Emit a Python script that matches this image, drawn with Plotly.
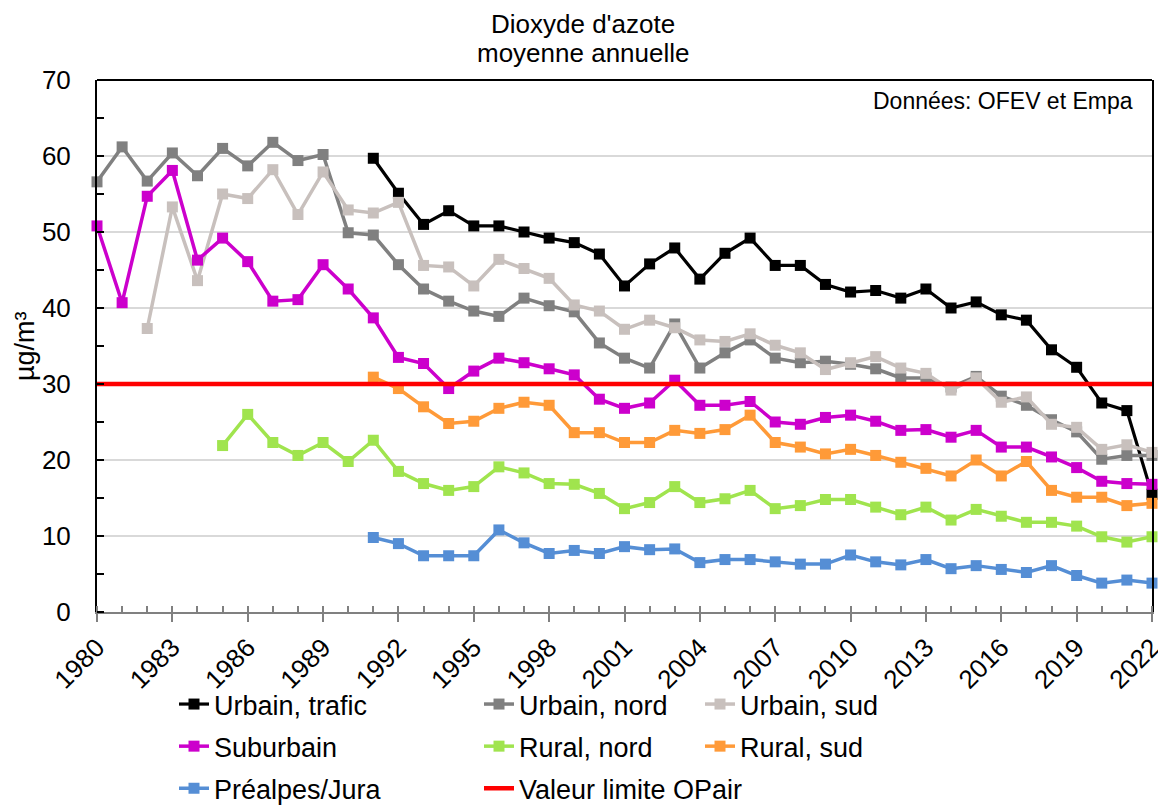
import plotly.graph_objects as go

years = list(range(1980, 2023))

urbain_trafic = [None]*11 + [59.7, 55.1, 51.0, 52.8, 50.8, 50.8, 50.0, 49.2, 48.6, 47.1,
                             42.9, 45.8, 47.9, 43.8, 47.2, 49.2, 45.6, 45.6, 43.1, 42.1,
                             42.3, 41.3, 42.5, 40.0, 40.8, 39.1, 38.4, 34.5, 32.2, 27.5,
                             26.5, 15.5]
urbain_nord = [56.6, 61.2, 56.7, 60.4, 57.4, 61.0, 58.7, 61.8, 59.4, 60.2,
               49.9, 49.6, 45.7, 42.5, 40.9, 39.6, 38.9, 41.3, 40.3, 39.5,
               35.4, 33.4, 32.1, 37.9, 32.1, 34.1, 35.8, 33.4, 32.8, 33.0,
               32.6, 32.0, 30.8, 30.8, 29.6, 31.0, 28.4, 27.2, 25.3, 23.7,
               20.1, 20.6, 20.6]
urbain_sud = [None, None, 37.3, 53.3, 43.6, 55.0, 54.4, 58.2, 52.3, 57.9,
              52.9, 52.5, 53.9, 45.6, 45.4, 42.9, 46.4, 45.2, 43.9, 40.4,
              39.6, 37.2, 38.4, 37.4, 35.8, 35.6, 36.6, 35.1, 34.1, 31.9,
              32.8, 33.6, 32.1, 31.4, 29.2, 30.8, 27.6, 28.3, 24.7, 24.3,
              21.4, 22.0, 21.0]
suburbain = [50.8, 40.7, 54.7, 58.1, 46.3, 49.2, 46.1, 40.9, 41.1, 45.7,
             42.5, 38.7, 33.5, 32.7, 29.4, 31.7, 33.4, 32.8, 32.0, 31.2,
             28.0, 26.8, 27.5, 30.5, 27.2, 27.2, 27.7, 25.0, 24.7, 25.6,
             25.9, 25.1, 23.9, 24.0, 23.0, 23.9, 21.7, 21.7, 20.4, 19.0,
             17.2, 16.9, 16.8]
rural_nord = [None]*5 + [21.9, 26.0, 22.3, 20.6, 22.3,
                         19.8, 22.6, 18.5, 16.9, 16.0, 16.5, 19.1, 18.3, 16.9, 16.8,
                         15.6, 13.6, 14.4, 16.5, 14.4, 14.9, 16.0, 13.6, 14.0, 14.8,
                         14.8, 13.8, 12.8, 13.8, 12.1, 13.5, 12.6, 11.8, 11.8, 11.3,
                         9.9, 9.2, 9.9]
rural_sud = [None]*11 + [30.9, 29.4, 27.0, 24.8, 25.1, 26.8, 27.6, 27.2, 23.6,
                         23.6, 22.3, 22.3, 23.9, 23.5, 24.0, 25.9, 22.3, 21.7, 20.8,
                         21.4, 20.6, 19.7, 18.9, 17.9, 20.0, 17.9, 19.8, 16.0, 15.1,
                         15.1, 14.0, 14.3]
prealpes_jura = [None]*11 + [9.8, 9.0, 7.4, 7.4, 7.4, 10.8, 9.1, 7.7, 8.1,
                             7.7, 8.6, 8.2, 8.3, 6.5, 6.9, 6.9, 6.6, 6.3, 6.3,
                             7.5, 6.6, 6.2, 6.9, 5.7, 6.1, 5.6, 5.2, 6.1, 4.8,
                             3.8, 4.2, 3.8]
limit_years = [1980, 2022]
limit_values = [30, 30]
x_tick_labels = [str(y) for y in range(1980, 2023, 3)]
y_tick_values = [0, 10, 20, 30, 40, 50, 60, 70]
title_lines = ["Dioxyde d'azote", "moyenne annuelle"]

FONT = "Liberation Sans, Arial, sans-serif"

# page body has an 8px margin: the figure is sized and placed to compensate
W, H, OFF = 1158, 801, 8
PL, PR, PT, PB = 97, 1152, 80, 612   # plot area in page pixels


def cx(px):
    return (px - OFF) / W


def cy(py):
    return 1 - (py - OFF) / H


def px_x(px):
    return (px - PL) / (PR - PL)


def px_y(py):
    return (PB - py) / (PB - PT)


series = [
    ("Urbain, trafic", urbain_trafic, "#000000", "legend", 3.2),
    ("Urbain, nord", urbain_nord, "#808080", "legend2", 3.5),
    ("Urbain, sud", urbain_sud, "#C8C0BD", "legend3", 3.5),
    ("Suburbain", suburbain, "#CC00CC", "legend", 3.5),
    ("Rural, nord", rural_nord, "#A0E44E", "legend2", 3.5),
    ("Rural, sud", rural_sud, "#FF9A38", "legend3", 3.5),
    ("Préalpes/Jura", prealpes_jura, "#558ED5", "legend", 3.5),
]

fig = go.Figure()
for name, vals, color, leg, lw in series:
    fig.add_trace(go.Scatter(
        x=years, y=vals, name=name, mode="lines+markers",
        line=dict(color=color, width=lw),
        marker=dict(symbol="square", size=11, color=color),
        cliponaxis=False, legend=leg, legendgroup=name,
    ))

fig.add_trace(go.Scatter(
    x=limit_years, y=limit_values, name="Valeur limite OPair", mode="lines",
    line=dict(color="#FF0000", width=4.5), legend="legend2",
    legendgroup="limite", cliponaxis=False,
))

leg_common = dict(font=dict(family=FONT, size=27, color="#000000"),
                  bgcolor="rgba(0,0,0,0)", xref="container", yref="container",
                  yanchor="top", xanchor="left", tracegroupgap=4,
                  orientation="v")

title_font = dict(family=FONT, size=26, color="#000000")

fig.update_layout(
    width=W, height=H,
    margin=dict(l=PL - OFF, r=OFF + W - PR, t=PT - OFF, b=OFF + H - PB, autoexpand=False),
    paper_bgcolor="white", plot_bgcolor="white",
    font=dict(family=FONT, size=26, color="#000000"),
    legend=dict(x=cx(174), y=cy(680), **leg_common),
    legend2=dict(x=cx(479), y=cy(680), **leg_common),
    legend3=dict(x=cx(700), y=cy(680), **leg_common),
    showlegend=True,
    xaxis=dict(range=[1980, 2022], tickmode="array",
               tickvals=[int(t) for t in x_tick_labels], ticktext=x_tick_labels,
               tickangle=-45, showgrid=False, zeroline=False, automargin=False,
               showline=True, linecolor="#808080", linewidth=2,
               ticks="outside", ticklen=8, tickwidth=1.5, tickcolor="#808080",
               minor=dict(ticks="inside", tickvals=years, ticklen=6, tickwidth=1.5,
                          tickcolor="#808080", showgrid=False),
               tickfont=dict(family=FONT, size=26, color="#000000")),
    yaxis=dict(range=[0, 70], tickmode="array", tickvals=y_tick_values,
               showgrid=True, gridcolor="#D9D9D9", gridwidth=1.5, automargin=False,
               zeroline=False, showline=True, linecolor="#000000", linewidth=2,
               mirror=True, ticks="outside", ticklen=19, tickcolor="rgba(0,0,0,0)",
               minor=dict(ticks="inside", dtick=5, tick0=0, ticklen=7, tickwidth=1.5,
                          tickcolor="#000000", showgrid=False),
               tickfont=dict(family=FONT, size=26, color="#000000")),
    shapes=[dict(type="line", xref="paper", yref="paper", x0=0, x1=1, y0=1, y1=1,
                 line=dict(color="#000000", width=2))],
    annotations=[
        dict(text=title_lines[0], xref="paper", yref="paper", x=px_x(583), y=px_y(24),
             xanchor="center", yanchor="middle", showarrow=False, font=title_font),
        dict(text=title_lines[1], xref="paper", yref="paper", x=px_x(583), y=px_y(53),
             xanchor="center", yanchor="middle", showarrow=False, font=title_font),
        dict(text="Données: OFEV et Empa", xref="paper", yref="paper",
             x=0.984, y=0.96, xanchor="right", yanchor="middle",
             showarrow=False, font=dict(family=FONT, size=23, color="#000000")),
        dict(text="µg/m³", xref="paper", yref="paper", x=px_x(25), y=0.5,
             xanchor="center", yanchor="middle", textangle=-90, showarrow=False,
             font=dict(family=FONT, size=27, color="#000000")),
    ],
)

fig.write_html("out.html")
